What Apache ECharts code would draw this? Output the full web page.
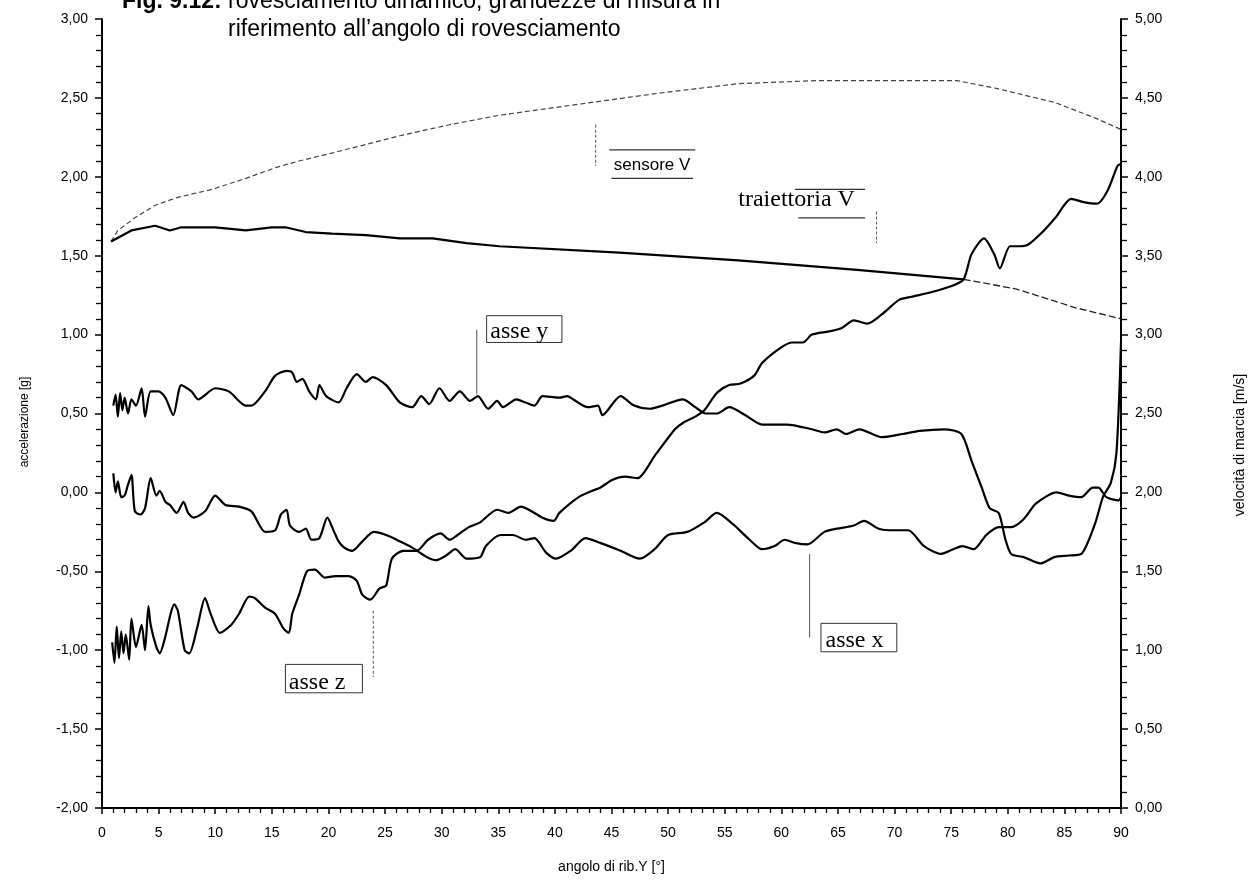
<!DOCTYPE html>
<html lang="it">
<head>
<meta charset="utf-8">
<title>rovesciamento dinamico</title>
<script src="https://cdn.jsdelivr.net/npm/echarts@6.0.0/dist/echarts.min.js"></script>
<style>
html,body{margin:0;padding:0;background:#fff;}
#chart{width:1252px;height:880px;}
</style>
</head>
<body>
<div id="chart"></div>
<script>
// ---- misure: accelerazioni [g] in funzione dell'angolo di ribaltamento Y [°] ----
const asseYAngle = [1.0,1.2,1.4,1.6,1.8,2.0,2.3,2.6,3.0,3.5,3.8,4.3,5.0,5.6,6.3,7.0,7.9,8.5,10.0,11.2,12.7,13.2,14.4,15.3,16.3,16.8,17.2,17.7,18.3,18.9,19.2,19.8,20.9,21.6,22.5,23.3,23.9,25.1,26.3,27.4,28.2,28.9,29.8,30.7,31.6,32.5,33.2,34.1,34.9,35.4,36.6,37.4,38.2,38.9,40.4,41.1,41.6,42.9,43.8,44.2,45.8,47.0,48.4,49.5,51.3,52.4,53.3,54.3,55.4,56.8,58.3,60.5,62.7,63.8,64.9,65.7,66.9,68.9,70.7,72.2,74.4,75.9,76.8,77.7,78.4,79.2,79.8,80.3,81.4,82.9,84.1,85.4,86.5,87.7,88.4,89.1,89.6,90.0];
const asseYAcc = [0.55,0.62,0.48,0.63,0.52,0.60,0.50,0.59,0.55,0.66,0.48,0.64,0.64,0.60,0.49,0.68,0.64,0.59,0.66,0.64,0.55,0.55,0.64,0.74,0.77,0.76,0.70,0.72,0.64,0.59,0.68,0.61,0.57,0.66,0.75,0.70,0.73,0.68,0.57,0.54,0.61,0.56,0.66,0.58,0.64,0.58,0.61,0.53,0.58,0.54,0.59,0.57,0.55,0.61,0.60,0.61,0.59,0.54,0.55,0.49,0.61,0.55,0.53,0.55,0.59,0.54,0.50,0.50,0.54,0.49,0.43,0.43,0.40,0.38,0.40,0.37,0.40,0.35,0.37,0.39,0.40,0.37,0.20,0.03,-0.10,-0.13,-0.30,-0.39,-0.41,-0.45,-0.41,-0.40,-0.39,-0.20,-0.03,0.06,0.25,0.95];

const asseXAngle = [1.0,1.2,1.4,1.7,2.0,2.3,2.6,2.9,3.4,3.8,4.3,4.8,5.1,5.6,6.0,6.6,7.2,7.6,8.1,9.1,10.0,10.9,12.1,13.2,14.4,15.3,15.8,16.3,16.6,17.4,18.0,18.5,19.2,19.9,20.5,20.9,21.4,22.1,23.0,24.0,25.1,26.3,27.4,28.7,29.5,30.4,31.2,32.2,33.4,33.9,35.2,36.3,37.4,38.2,39.2,40.1,41.4,42.7,44.0,45.8,47.5,48.8,50.0,51.7,53.2,54.3,55.7,57.2,58.3,59.4,60.3,61.2,62.3,63.8,64.9,66.4,67.3,68.6,70.0,71.2,72.6,74.1,75.2,76.0,77.0,78.1,79.2,80.3,81.4,82.5,84.3,85.4,86.5,87.5,88.0,88.7,89.8,90.0];
const asseXAcc = [0.12,0.00,0.07,-0.03,-0.02,0.05,0.11,-0.12,-0.14,-0.10,0.09,-0.02,0.01,-0.06,-0.08,-0.13,-0.06,-0.13,-0.16,-0.12,-0.02,-0.08,-0.09,-0.12,-0.25,-0.24,-0.14,-0.11,-0.21,-0.25,-0.23,-0.30,-0.29,-0.16,-0.25,-0.31,-0.35,-0.37,-0.31,-0.25,-0.27,-0.31,-0.35,-0.41,-0.43,-0.40,-0.36,-0.42,-0.41,-0.34,-0.27,-0.27,-0.30,-0.29,-0.38,-0.42,-0.37,-0.29,-0.32,-0.37,-0.42,-0.36,-0.27,-0.25,-0.19,-0.13,-0.20,-0.30,-0.36,-0.34,-0.30,-0.32,-0.33,-0.25,-0.23,-0.21,-0.18,-0.23,-0.24,-0.24,-0.34,-0.39,-0.36,-0.34,-0.36,-0.27,-0.22,-0.22,-0.17,-0.07,0.00,-0.02,-0.03,0.03,0.03,-0.03,-0.05,-0.03];

const asseZAngle = [0.9,1.1,1.3,1.5,1.7,1.9,2.1,2.4,2.6,3.0,3.5,3.8,4.1,4.3,4.8,5.1,5.5,6.4,6.7,7.3,7.7,8.4,9.1,9.6,10.4,11.4,12.1,13.0,13.5,14.4,15.3,16.0,16.5,16.8,17.4,18.1,18.8,19.7,20.6,21.8,22.5,23.0,23.7,24.5,25.1,25.6,26.6,27.8,28.8,29.9,30.7,31.4,32.4,33.4,34.9,35.9,37.0,38.9,39.9,40.4,42.1,43.3,44.0,45.1,46.2,47.3,48.8,50.6,51.3,52.4,53.2,54.3,55.4,56.4,57.6,58.3,59.8,60.9,61.9,62.7,64.2,65.3,66.4,67.6,68.9,70.4,71.5,73.3,75.1,76.1,76.8,77.9,78.8,79.3,80.2,81.1,81.8,83.2,84.2,85.6,86.7,87.9,88.8,89.7,90.0];
const asseZAcc = [-0.95,-1.08,-0.85,-1.05,-0.88,-1.02,-0.90,-1.06,-0.80,-0.98,-0.84,-1.00,-0.72,-0.84,-0.98,-1.02,-0.94,-0.71,-0.75,-1.00,-1.02,-0.86,-0.67,-0.77,-0.89,-0.84,-0.77,-0.66,-0.67,-0.73,-0.77,-0.86,-0.89,-0.77,-0.65,-0.50,-0.49,-0.54,-0.53,-0.53,-0.56,-0.65,-0.68,-0.61,-0.59,-0.42,-0.37,-0.37,-0.30,-0.26,-0.30,-0.27,-0.22,-0.19,-0.11,-0.13,-0.09,-0.16,-0.18,-0.13,-0.03,0.01,0.03,0.08,0.10,0.09,0.23,0.40,0.44,0.48,0.52,0.63,0.68,0.69,0.74,0.82,0.91,0.95,0.95,1.00,1.02,1.04,1.09,1.07,1.13,1.22,1.24,1.27,1.31,1.35,1.51,1.61,1.51,1.42,1.56,1.56,1.57,1.66,1.74,1.86,1.84,1.83,1.91,2.07,2.08];

// ---- velocità di marcia [m/s] ----
const traiettoriaAngle = [0.8,2.6,4.7,6.0,7.0,10.0,12.7,15.0,16.2,18.0,20.3,23.3,26.3,29.2,32.2,35.1,45.7,56.2,66.7,76.1,80.7,86.0,90.0];
const traiettoriaSpeed = [3.59,3.66,3.69,3.66,3.68,3.68,3.66,3.68,3.68,3.65,3.64,3.63,3.61,3.61,3.58,3.56,3.52,3.47,3.41,3.35,3.29,3.17,3.10];
const traiettoriaSplit = 19; // da qui in poi la traccia è tratteggiata

const sensoreAngle = [0.8,1.4,2.9,4.7,6.7,9.7,12.7,15.4,17.4,20.3,26.3,30.7,35.1,42.1,49.2,56.2,63.2,70.2,75.5,79.0,84.2,87.8,90.0,92.0,90.9];
const sensoreSpeed = [3.59,3.66,3.74,3.82,3.87,3.92,3.99,4.06,4.10,4.15,4.26,4.33,4.39,4.46,4.53,4.59,4.61,4.61,4.61,4.56,4.47,4.37,4.30,4.25,4.03];

// ---- assi ----
const angleTicks = {min: 0, max: 90, step: 5};
const accTicks = {min: -2, max: 3, step: 0.5};
const speedTicks = {min: 0, max: 5, step: 0.5};

const titleLine1Bold = 'Fig. 9.12:';
const titleLine1 = ' rovesciamento dinamico, grandezze di misura in';
const titleLine2 = 'riferimento all\u2019angolo di rovesciamento';
const nameAngle = 'angolo di rib.Y [°]';
const nameAcc = 'accelerazione [g]';
const nameSpeed = 'velocità di marcia [m/s]';

const pairs = (xs, ys) => xs.map((x, i) => [x, ys[i]]);
const comma = v => v.toFixed(2).replace('.', ',');
const SANS = '"Liberation Sans", Arial, sans-serif';
const SERIF = '"Liberation Serif", "Times New Roman", serif';

const chart = echarts.init(document.getElementById('chart'), null, {renderer: 'canvas'});

function valueAxis(t, pos, extra) {
  return Object.assign({
    type: 'value', position: pos, min: t.min, max: t.max, interval: t.step,
    axisLine: {show: true, onZero: false, lineStyle: {color: '#000', width: 2}},
    axisTick: {show: true, inside: false, length: 7, lineStyle: {color: '#000', width: 1.5}},
    minorTick: {show: true, splitNumber: 5, length: 6, lineStyle: {color: '#000', width: 1.3}},
    splitLine: {show: false},
    minorSplitLine: {show: false},
    axisLabel: {color: '#000', fontFamily: SANS, fontSize: 14, margin: 14, formatter: comma}
  }, extra || {});
}

const traj = pairs(traiettoriaAngle, traiettoriaSpeed);

const option = {
  animation: false,
  backgroundColor: '#fff',
  grid: {left: 102, right: 131, top: 19, bottom: 72},
  xAxis: {
    type: 'value', min: angleTicks.min, max: angleTicks.max, interval: angleTicks.step,
    name: nameAngle, nameLocation: 'middle', nameGap: 52,
    nameTextStyle: {color: '#000', fontFamily: SANS, fontSize: 14},
    axisLine: {show: true, onZero: false, lineStyle: {color: '#000', width: 2}},
    axisTick: {show: true, length: 6, lineStyle: {color: '#000', width: 1.5}},
    minorTick: {show: true, splitNumber: 5, length: 5, lineStyle: {color: '#000', width: 1.3}},
    splitLine: {show: false},
    axisLabel: {color: '#000', fontFamily: SANS, fontSize: 14, margin: 18}
  },
  yAxis: [
    valueAxis(accTicks, 'left'),
    valueAxis(speedTicks, 'right')
  ],
  series: [
    {name: 'sensore V', type: 'line', yAxisIndex: 1, data: pairs(sensoreAngle, sensoreSpeed),
     symbol: 'none', clip: false, lineStyle: {color: '#444', width: 1.2, type: [5, 3]}},
    {name: 'traiettoria V', type: 'line', yAxisIndex: 1, data: traj.slice(0, traiettoriaSplit + 1),
     symbol: 'none', lineStyle: {color: '#000', width: 2.2}},
    {name: 'traiettoria V ', type: 'line', yAxisIndex: 1, data: traj.slice(traiettoriaSplit),
     symbol: 'none', lineStyle: {color: '#222', width: 1.3, type: [7, 3]}},
    {name: 'asse y', type: 'line', yAxisIndex: 0, data: pairs(asseYAngle, asseYAcc),
     symbol: 'none', smooth: 0.25, lineStyle: {color: '#000', width: 2.2}},
    {name: 'asse x', type: 'line', yAxisIndex: 0, data: pairs(asseXAngle, asseXAcc),
     symbol: 'none', smooth: 0.25, lineStyle: {color: '#000', width: 2.2}},
    {name: 'asse z', type: 'line', yAxisIndex: 0, data: pairs(asseZAngle, asseZAcc),
     symbol: 'none', smooth: 0.25, lineStyle: {color: '#000', width: 2.2}}
  ]
};
chart.setOption(option);

// ---- didascalie delle curve, ancorate alle coordinate degli assi ----
const notes = [
  {text: 'asse y', axis: 0, font: '24px ' + SERIF,
   leader: [[33.1, 0.62], [33.1, 1.03]], box: [[33.97, 1.12], [40.62, 0.95]], at: [34.3, 1.016]},
  {text: 'asse z', axis: 0, font: '24px ' + SERIF, dash: true,
   leader: [[23.96, -0.75], [23.96, -1.17]], box: [[16.2, -1.09], [23.0, -1.27]], at: [16.5, -1.205]},
  {text: 'asse x', axis: 0, font: '24px ' + SERIF,
   leader: [[62.5, -0.39], [62.5, -0.92]], box: [[63.5, -0.83], [70.2, -1.01]], at: [63.9, -0.94]},
  {text: 'sensore V', axis: 1, font: '17px ' + SANS, dash: true,
   leader: [[43.6, 4.33], [43.6, 4.07]],
   rules: [[[44.8, 4.17], [52.4, 4.17]], [[45.0, 3.99], [52.2, 3.99]]], at: [45.2, 4.07]},
  {text: 'traiettoria V', axis: 1, font: '24px ' + SERIF, dash: true,
   leader: [[68.4, 3.78], [68.4, 3.58]],
   rules: [[[61.2, 3.92], [67.4, 3.92]], [[61.5, 3.74], [67.4, 3.74]]], at: [56.2, 3.854]}
];

function toPx(axis, p) {
  return chart.convertToPixel({xAxisIndex: 0, yAxisIndex: axis}, p);
}

const elements = [];
notes.forEach(n => {
  const a = toPx(n.axis, n.leader[0]);
  const b = toPx(n.axis, n.leader[1]);
  elements.push({type: 'line', silent: true,
    shape: {x1: a[0], y1: a[1], x2: b[0], y2: b[1]},
    style: {stroke: '#555', lineWidth: 1, lineDash: n.dash ? [3, 2] : null}});
  if (n.box) {
    const p = toPx(n.axis, n.box[0]);
    const q = toPx(n.axis, n.box[1]);
    elements.push({type: 'rect', silent: true,
      shape: {x: p[0], y: p[1], width: q[0] - p[0], height: q[1] - p[1]},
      style: {fill: 'transparent', stroke: '#333', lineWidth: 1}});
  }
  (n.rules || []).forEach(r => {
    const p = toPx(n.axis, r[0]);
    const q = toPx(n.axis, r[1]);
    elements.push({type: 'line', silent: true,
      shape: {x1: p[0], y1: p[1], x2: q[0], y2: q[1]},
      style: {stroke: '#333', lineWidth: 1.2}});
  });
  const t = toPx(n.axis, n.at);
  elements.push({type: 'text', silent: true, x: t[0], y: t[1],
    style: {text: n.text, font: n.font, fill: '#000',
      align: 'left', verticalAlign: 'middle', textAlign: 'left', textVerticalAlign: 'middle'}});
});

// titolo (parzialmente tagliato dal bordo superiore) e nomi degli assi verticali
elements.push({type: 'text', silent: true, x: 122, y: 2,
  style: {text: '{b|' + titleLine1Bold + '}' + titleLine1, fill: '#000',
    fontFamily: 'Liberation Sans', fontSize: 23,
    rich: {b: {fontFamily: 'Liberation Sans', fontSize: 23, fontWeight: 'bold', fill: '#000'}},
    align: 'left', verticalAlign: 'middle', textAlign: 'left', textVerticalAlign: 'middle'}});
elements.push({type: 'text', silent: true, x: 228, y: 30,
  style: {text: titleLine2, fill: '#000', font: '23px ' + SANS,
    align: 'left', verticalAlign: 'middle', textAlign: 'left', textVerticalAlign: 'middle'}});
elements.push({type: 'text', silent: true, x: 25, y: 422, rotation: Math.PI / 2,
  style: {text: nameAcc, fill: '#000', font: '12px ' + SANS,
    align: 'center', verticalAlign: 'middle', textAlign: 'center', textVerticalAlign: 'middle'}});
elements.push({type: 'text', silent: true, x: 1240, y: 445, rotation: Math.PI / 2,
  style: {text: nameSpeed, fill: '#000', font: '14px ' + SANS,
    align: 'center', verticalAlign: 'middle', textAlign: 'center', textVerticalAlign: 'middle'}});

chart.setOption({graphic: {elements: elements}});
</script>
</body>
</html>
